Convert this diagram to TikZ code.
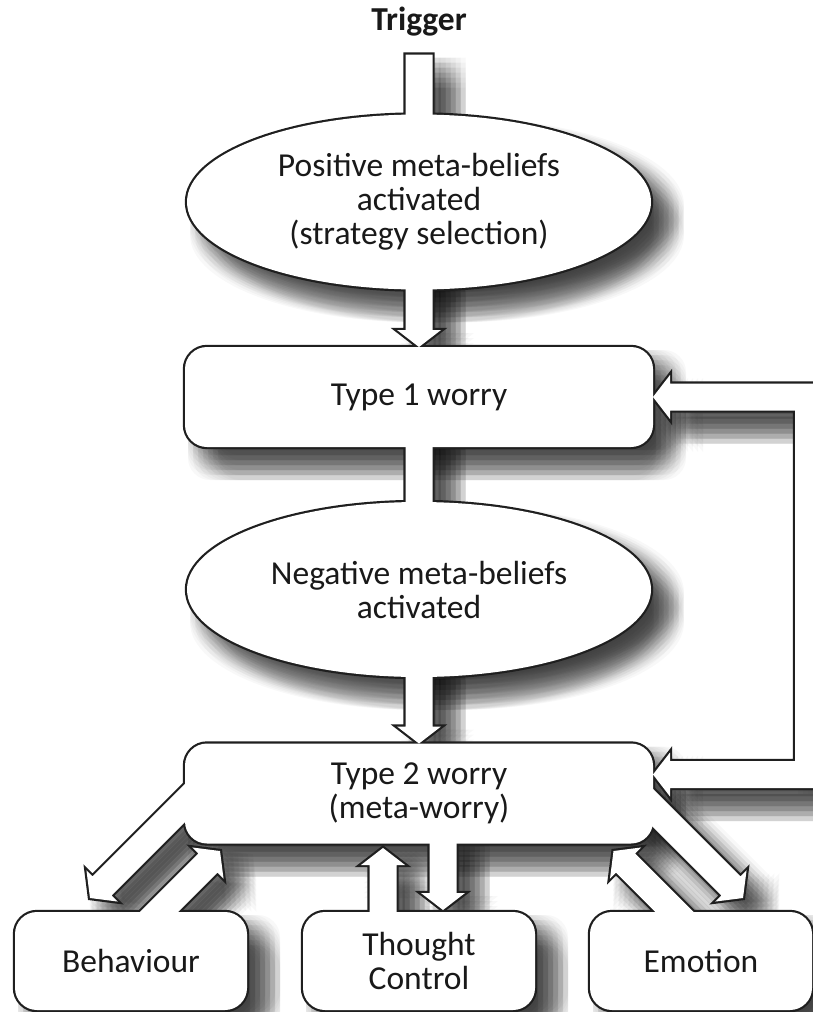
\documentclass[tikz,border=0pt]{standalone}
\usepackage{fontspec}
\setmainfont{Carlito}
\usepackage{tikz}
\usetikzlibrary{shapes.geometric, calc, positioning}

\pgfdeclarelayer{shade}
\pgfdeclarelayer{lines}
\pgfdeclarelayer{fills}
\pgfsetlayers{shade,lines,fills,main}

\tikzset{
  outline/.style={draw=black!88, line width=4.4pt},
  blockarrow/.style={to path={
    let \p1=(\tikztostart), \p2=(\tikztotarget),
        \n1={atan2(\y2-(\y1),\x2-(\x1))}, \n2={veclen(\x2-(\x1),\y2-(\y1))} in
    [shift={(\p1)}, rotate=\n1]
    (0,-13.5) -- ({\n2-17},-13.5) -- ({\n2-17},-22) -- (\n2,0)
    -- ({\n2-17},22) -- ({\n2-17},13.5) -- (0,13.5) -- cycle}}
}

% soft shadow, outline and white fill of one shape, each on its own layer
\newcommand{\layered}[2][]{%
  \begin{pgfonlayer}{shade}
    \foreach \dx in {3,8,...,33}
      \foreach \dy in {3,8,...,33}
        \fill[black, fill opacity=0.027, transform canvas={xshift=\dx pt, yshift=-\dy pt}, #1] #2;
  \end{pgfonlayer}
  \begin{pgfonlayer}{lines}\draw[outline,#1] #2;\end{pgfonlayer}
  \begin{pgfonlayer}{fills}\fill[white,#1] #2;\end{pgfonlayer}}

\begin{document}
\begin{tikzpicture}[x=1pt, y=1pt,
  every node/.style={font=\fontsize{33.5}{34}\selectfont, text=black!90, align=center, inner sep=0pt, outer sep=0pt},
  worrybox/.style={rectangle, minimum width=468pt, minimum height=100pt},
  beliefs/.style={ellipse, minimum width=464pt, minimum height=175pt},
  outcome/.style={rectangle, minimum width=232pt, minimum height=98pt}]

  \useasboundingbox (0,0) rectangle (813,-1012);

  \node (gad_trigger) at (419,-22) {\textbf{Trigger}};
  \node (gad_pos) [beliefs] at (419,-202) {Positive meta-beliefs\\activated\\(strategy selection)};
  \node (gad_type1) [worrybox, below=57.5pt of gad_pos] {Type 1 worry};
  \node (gad_neg) [beliefs, below=55pt of gad_type1] {Negative meta-beliefs\\activated};
  \node (gad_type2) [worrybox, below=66.5pt of gad_neg] {Type 2 worry\\(meta-worry)};
  \node (gad_thought) [outcome, below=68.5pt of gad_type2] {Thought\\Control};
  \node (gad_behav) [outcome, left=56pt of gad_thought] {Behaviour};
  \node (gad_emotion) [outcome, minimum width=222pt, right=55pt of gad_thought] {Emotion};

  % shapes behind the texts
  \foreach \shp in {gad_pos, gad_neg}
    \layered{(\shp.center) ellipse [x radius=232pt, y radius=87.5pt]};
  \foreach \shp in {gad_type1, gad_type2, gad_behav, gad_thought, gad_emotion}
    \layered[rounded corners=22pt]{(\shp.south west) rectangle (\shp.north east)};

  % block arrows
  \coordinate (trig_foot) at ($(gad_pos.north)+(0,60)$);
  \layered{(trig_foot) to[blockarrow] (gad_pos.center)};
  \layered{(gad_pos.center) to[blockarrow] (gad_type1.north)};
  \layered{(gad_type1.center) to[blockarrow] (gad_neg.center)};
  \layered{(gad_neg.center) to[blockarrow] (gad_type2.north)};

  \coordinate (loop_in) at ($(gad_type2.north east)+(0,-31)$);
  \layered{(gad_type1.east) -- ++(17,22) -- ++(0,-8.5) -- ++(153,0)
    -- ($(loop_in)+(170,-13.5)$) -- ++(-153,0) -- ++(0,-8.5) -- (loop_in)
    -- ++(17,22) -- ++(0,-8.5) -- ++(125,0)
    -- ($(gad_type1.east)+(142,-13.5)$) -- ++(-125,0) -- ++(0,-8.5) -- cycle};

  \layered{($(gad_behav.north)+(69,124)$) to[blockarrow] ($(gad_behav.north)+(-41,14)$)};
  \layered{($(gad_behav.north)+(9,-19)$) to[blockarrow] ($(gad_behav.north)+(89,61)$)};
  \layered{($(gad_thought.north)+(-36,-10)$) to[blockarrow] ($(gad_thought.north)+(-36,64)$)};
  \layered{($(gad_thought.north)+(24,80)$) to[blockarrow] ($(gad_thought.north)+(24,2)$)};
  \layered{($(gad_emotion.north)+(-7.5,-19)$) to[blockarrow] ($(gad_emotion.north)+(-87.5,61)$)};
  \layered{($(gad_emotion.north)+(-61,117)$) to[blockarrow] ($(gad_emotion.north)+(42,14)$)};
\end{tikzpicture}
\end{document}
